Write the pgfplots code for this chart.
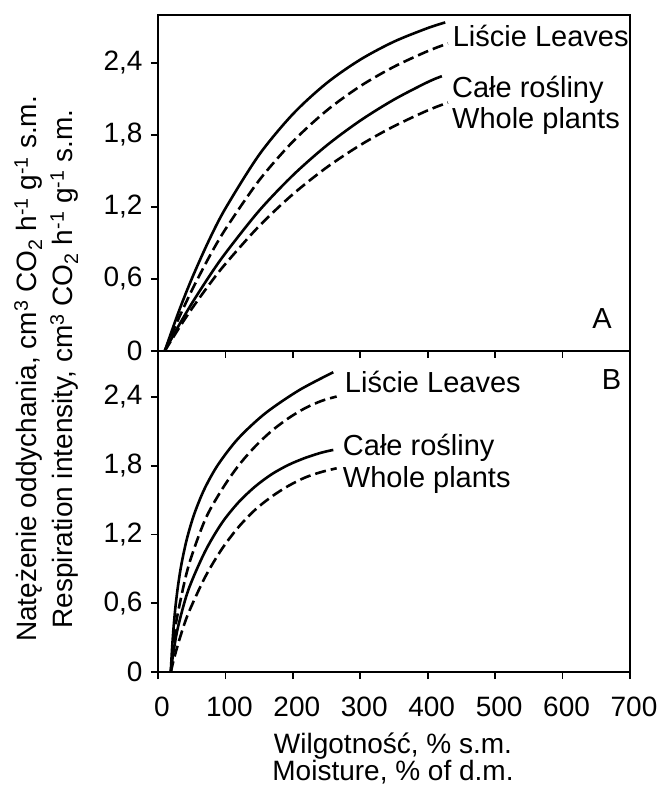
\documentclass[border=0pt]{standalone}
\usepackage{fontspec}
\setmainfont{Liberation Sans}
\usepackage{pgfplots}
\pgfplotsset{compat=1.18}
\tikzset{lab/.style={anchor=base west, inner sep=0pt, font=\fontsize{29}{34}\selectfont}}
\begin{document}
\begin{tikzpicture}[font=\fontsize{28}{33}\selectfont]
\useasboundingbox (-158pt,-113pt) rectangle (504pt,672pt);
\pgfplotsset{
  panel/.style={
    scale only axis, width=472pt, xmin=0, xmax=700, ymin=0, ymax=2.8,
    axis line style={line width=2.6pt},
    tick style={line width=1.8pt, black},
    major tick length=7pt,
    tick align=outside,
    xtick pos=bottom, ytick pos=left,
    xtick={0,100,...,700},
    ytick={0,0.6,1.2,1.8,2.4},
    yticklabels={0,{0,6},{1,2},{1,8},{2,4}},
    /pgf/number format/assume math mode=true,
    ticklabel style={font=\fontsize{28}{33}\selectfont},
    yticklabel style={xshift=-5pt},
  },
  sl/.style={black, line width=2.6pt, smooth, no markers, solid},
  dsh/.style={black, line width=2.6pt, smooth, no markers, dash pattern=on 11pt off 5pt},
}
% Bottom panel B
\begin{axis}[panel, at={(0,0)}, anchor=south west, height=321pt,
  xticklabel style={xshift=4pt, yshift=-14pt}]
\addplot[sl] coordinates {(19,0) (20,0.118) (21,0.218) (23,0.383) (26,0.574) (30,0.765) (35,0.948) (43,1.165) (54,1.382) (69,1.598) (89,1.808) (119,2.037) (159,2.256) (209,2.457) (260,2.615)};
\addplot[dsh] coordinates {(19,0) (21,0.13) (24,0.29) (28,0.47) (45,0.919) (69.7,1.326) (94.4,1.588) (119.1,1.798) (143.9,1.966) (168.6,2.103) (193.3,2.213) (218,2.301) (242.7,2.365) (265,2.403)};
\addplot[sl] coordinates {(19,0) (21,0.094) (24,0.213) (30,0.40) (45,0.716) (69.7,1.050) (94.4,1.297) (119.1,1.478) (143.9,1.617) (168.6,1.725) (193.3,1.806) (218,1.867) (242.7,1.914) (260,1.937)};
\addplot[dsh] coordinates {(19,0) (22,0.074) (26,0.165) (33,0.307) (45,0.512) (69.7,0.826) (94.4,1.070) (119.1,1.262) (143.9,1.414) (168.6,1.530) (193.3,1.623) (218,1.696) (242.7,1.745) (265,1.777)};
\node[lab] at (axis cs:277,2.435) {Liście Leaves};
\node[lab] at (axis cs:274,1.89) {Całe rośliny};
\node[lab] at (axis cs:274,1.61) {Whole plants};
\node[lab] at (axis cs:658,2.46) {B};
\end{axis}
% Top panel A
\begin{axis}[panel, at={(0,321pt)}, anchor=south west, height=336pt,
  xticklabels={}]
\addplot[sl] coordinates {(10,0) (30,0.317) (50,0.601) (75,0.915) (100,1.188) (150,1.635) (200,1.974) (250,2.232) (300,2.428) (350,2.578) (400,2.691) (426,2.738)};
\addplot[dsh] coordinates {(10,0) (30,0.263) (50,0.503) (75,0.774) (100,1.015) (150,1.422) (200,1.745) (250,2.003) (300,2.207) (350,2.369) (400,2.499) (430,2.563)};
\addplot[sl] coordinates {(10,0) (30,0.204) (50,0.395) (75,0.614) (100,0.815) (150,1.169) (200,1.464) (250,1.712) (300,1.920) (350,2.095) (400,2.241) (421,2.29)};
\addplot[dsh] coordinates {(10,0) (30,0.181) (50,0.351) (75,0.546) (100,0.726) (150,1.041) (200,1.306) (250,1.529) (300,1.716) (350,1.873) (400,2.005) (430,2.07)};
\node[lab] at (axis cs:437,2.54) {Liście Leaves};
\node[lab] at (axis cs:436,2.115) {Całe rośliny};
\node[lab] at (axis cs:436,1.85) {Whole plants};
\node[lab] at (axis cs:644,0.19) {A};
\end{axis}
% axis labels
\node[rotate=90, anchor=base] at (-121pt,303pt) {Natężenie oddychania, cm\textsuperscript{3} CO\textsubscript{2} h\textsuperscript{-1} g\textsuperscript{-1} s.m.};
\node[rotate=90, anchor=base] at (-85pt,303pt) {Respiration intensity, cm\textsuperscript{3} CO\textsubscript{2} h\textsuperscript{-1} g\textsuperscript{-1} s.m.};
\node[anchor=base] at (235pt,-81pt) {Wilgotność, \% s.m.};
\node[anchor=base] at (235pt,-108pt) {Moisture, \% of d.m.};
\end{tikzpicture}
\end{document}
